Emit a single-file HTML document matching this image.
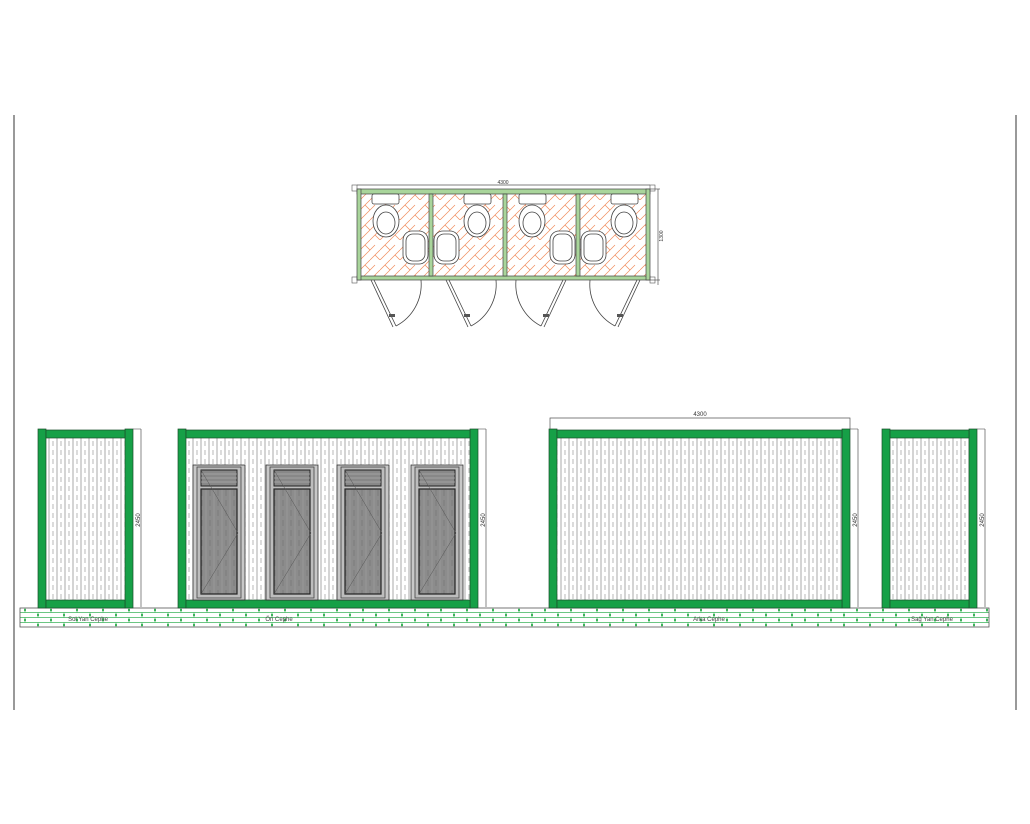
<!DOCTYPE html>
<html><head><meta charset="utf-8"><style>
html,body{margin:0;padding:0;background:#fff;}
svg{display:block;font-family:"Liberation Sans",sans-serif;}
</style></head><body>
<svg width="1030" height="824" viewBox="0 0 1030 824" xmlns="http://www.w3.org/2000/svg">
<defs>
<pattern id="sid" x="0" y="0" width="8" height="9" patternUnits="userSpaceOnUse">
<rect width="8" height="9" fill="#fff"/>
<line x1="1" y1="0" x2="1" y2="9" stroke="#aaa" stroke-width="1"/>
<line x1="5" y1="0" x2="5" y2="5" stroke="#999" stroke-width="0.7"/>
</pattern>
<pattern id="dsid" x="0" y="0" width="8" height="10" patternUnits="userSpaceOnUse">
<rect width="8" height="10" fill="#8c8c8c"/>
<line x1="2" y1="0" x2="2" y2="6" stroke="#777" stroke-width="0.8"/>
<line x1="6" y1="0" x2="6" y2="10" stroke="#9a9a9a" stroke-width="0.8"/>
</pattern>
<pattern id="herr" x="0" y="0" width="20" height="20" patternUnits="userSpaceOnUse">
<rect width="20" height="20" fill="#fff"/>
<path d="M0 10 L10 0 M10 20 L20 10 M5 5 L10 10 L15 5 M5 15 L0 20 M15 15 L20 20 M10 10 L5 15" stroke="#f08a5a" stroke-width="0.7" fill="none"/>
</pattern>
<pattern id="brick" x="20" y="608" width="26" height="19" patternUnits="userSpaceOnUse">
<rect width="26" height="19" fill="#fff"/>
<path d="M0 4.5 H26 M0 9.5 H26 M0 14.5 H26 M5 0 V4.5 M18 4.5 V9.5 M5 9.5 V14.5 M18 14.5 V19" stroke="#3cb35a" stroke-width="0.8" fill="none"/>
<rect x="4" y="1" width="2" height="2" fill="#3cb35a"/><rect x="17" y="6" width="2" height="2" fill="#3cb35a"/>
<rect x="4" y="11" width="2" height="2" fill="#3cb35a"/><rect x="17" y="16" width="2" height="2" fill="#3cb35a"/>
</pattern>
</defs>

<line x1="14" y1="115" x2="14" y2="710" stroke="#333" stroke-width="1"/>
<line x1="1016" y1="115" x2="1016" y2="710" stroke="#333" stroke-width="1"/>

<!-- ===== PLAN ===== -->
<line x1="357" y1="185" x2="650" y2="185" stroke="#555" stroke-width="0.7"/>
<text x="503" y="184" font-size="5" text-anchor="middle" fill="#333">4300</text>
<line x1="650" y1="189" x2="660" y2="189" stroke="#555" stroke-width="0.7"/>
<line x1="650" y1="280" x2="660" y2="280" stroke="#555" stroke-width="0.7"/>
<line x1="658" y1="189" x2="658" y2="285" stroke="#555" stroke-width="0.7"/>
<text x="663" y="236" font-size="5" fill="#333" transform="rotate(-90 663 236)" text-anchor="middle">1300</text>
<rect x="361" y="194" width="285" height="82" fill="url(#herr)"/>
<g fill="#a9d59b" stroke="#444" stroke-width="0.7">
<rect x="357" y="189" width="293" height="5"/>
<rect x="357" y="276" width="293" height="4"/>
<rect x="357" y="189" width="4" height="91"/>
<rect x="646" y="189" width="4" height="91"/>
<rect x="429" y="194" width="4" height="82"/>
<rect x="503" y="194" width="4" height="82"/>
<rect x="576" y="194" width="4" height="82"/>
</g>
<rect x="352" y="185" width="5" height="6" fill="none" stroke="#555" stroke-width="0.6"/>
<rect x="352" y="277" width="5" height="6" fill="none" stroke="#555" stroke-width="0.6"/>
<rect x="650" y="185" width="5" height="6" fill="none" stroke="#555" stroke-width="0.6"/>
<rect x="650" y="277" width="5" height="6" fill="none" stroke="#555" stroke-width="0.6"/>
<g fill="#fff" stroke="#444" stroke-width="0.8">
<rect x="372" y="194" width="27" height="10" rx="2"/><ellipse cx="386" cy="221" rx="13" ry="16"/><ellipse cx="386" cy="223" rx="9" ry="11"/>
<rect x="464" y="194" width="27" height="10" rx="2"/><ellipse cx="477" cy="221" rx="13" ry="16"/><ellipse cx="477" cy="223" rx="9" ry="11"/>
<rect x="519" y="194" width="27" height="10" rx="2"/><ellipse cx="532" cy="221" rx="13" ry="16"/><ellipse cx="532" cy="223" rx="9" ry="11"/>
<rect x="611" y="194" width="27" height="10" rx="2"/><ellipse cx="624" cy="221" rx="13" ry="16"/><ellipse cx="624" cy="223" rx="9" ry="11"/>
<rect x="403" y="231" width="25" height="33" rx="9"/><rect x="406" y="234" width="19" height="27" rx="7"/>
<rect x="434" y="231" width="25" height="33" rx="9"/><rect x="437" y="234" width="19" height="27" rx="7"/>
<rect x="550" y="231" width="25" height="33" rx="9"/><rect x="553" y="234" width="19" height="27" rx="7"/>
<rect x="581" y="231" width="25" height="33" rx="9"/><rect x="584" y="234" width="19" height="27" rx="7"/>
</g>
<g fill="none" stroke="#444" stroke-width="0.8">
<path d="M371 280 L393 327 M374 280 L396 326"/><path d="M396 326 A47 47 0 0 0 421 280"/>
<path d="M446 280 L468 327 M449 280 L471 326"/><path d="M471 326 A47 47 0 0 0 496 280"/>
<path d="M566 280 L544 327 M563 280 L541 326"/><path d="M541 326 A47 47 0 0 1 516 280"/>
<path d="M640 280 L618 327 M637 280 L615 326"/><path d="M615 326 A47 47 0 0 1 590 280"/>
</g>
<g fill="#555"><rect x="389" y="314" width="6" height="3"/><rect x="464" y="314" width="6" height="3"/><rect x="543" y="314" width="6" height="3"/><rect x="617" y="314" width="6" height="3"/></g>

<!-- ===== ELEVATIONS ===== -->
<rect x="20" y="608" width="969" height="19" fill="url(#brick)" stroke="#555" stroke-width="0.8"/>
<g font-size="6" fill="#444" text-anchor="middle">
<text x="88" y="621">Sol Yan Cephe</text><text x="279" y="621">Ön Cephe</text>
<text x="709" y="621">Arka Cephe</text><text x="932" y="621">Sağ Yan Cephe</text>
</g>

<rect x="46" y="438" width="79" height="162" fill="url(#sid)"/>
<g fill="#16a047" stroke="#1a4d2a" stroke-width="0.7">
<rect x="38" y="429" width="8" height="179"/><rect x="125" y="429" width="8" height="179"/>
<rect x="46" y="430" width="79" height="8"/><rect x="46" y="600" width="79" height="8"/>
</g>
<line x1="133" y1="429" x2="141" y2="429" stroke="#555" stroke-width="0.6"/>
<line x1="141" y1="429" x2="141" y2="607" stroke="#555" stroke-width="0.7"/>
<text x="140" y="520" font-size="6" fill="#333" transform="rotate(-90 140 520)" text-anchor="middle">2450</text>

<rect x="186" y="438" width="284" height="162" fill="url(#sid)"/>
<g fill="#16a047" stroke="#1a4d2a" stroke-width="0.7">
<rect x="178" y="429" width="8" height="179"/><rect x="470" y="429" width="8" height="179"/>
<rect x="186" y="430" width="284" height="8"/><rect x="186" y="600" width="284" height="8"/>
</g>
<line x1="478" y1="429" x2="486" y2="429" stroke="#555" stroke-width="0.6"/>
<line x1="486" y1="429" x2="486" y2="607" stroke="#555" stroke-width="0.7"/>
<text x="485" y="520" font-size="6" fill="#333" transform="rotate(-90 485 520)" text-anchor="middle">2450</text>
<g id="d1">
<rect x="193" y="465" width="52" height="135" fill="#c8c8c8" stroke="#333" stroke-width="0.8"/>
<rect x="197" y="467" width="44" height="131" fill="#bdbdbd" stroke="#444" stroke-width="0.8"/>
<rect x="201" y="470" width="36" height="16" fill="#888" stroke="#222" stroke-width="1"/>
<path d="M201 474 H237 M201 478 H237 M201 482 H237" stroke="#aaa" stroke-width="0.8"/>
<rect x="201" y="489" width="36" height="105" fill="url(#dsid)" stroke="#222" stroke-width="1.2"/>
<path d="M201 470 L238 533 L201 594" stroke="#555" stroke-width="0.5" fill="none"/>
</g>
<use href="#d1" x="73"/>
<use href="#d1" x="144"/>
<use href="#d1" x="218"/>

<rect x="557" y="438" width="285" height="162" fill="url(#sid)"/>
<g fill="#16a047" stroke="#1a4d2a" stroke-width="0.7">
<rect x="549" y="429" width="8" height="179"/><rect x="842" y="429" width="8" height="179"/>
<rect x="557" y="430" width="285" height="8"/><rect x="557" y="600" width="285" height="8"/>
</g>
<path d="M550 429 V418 H850 V429" fill="none" stroke="#555" stroke-width="0.7"/>
<text x="700" y="416" font-size="6" fill="#333" text-anchor="middle">4300</text>
<line x1="850" y1="429" x2="858" y2="429" stroke="#555" stroke-width="0.6"/>
<line x1="858" y1="429" x2="858" y2="607" stroke="#555" stroke-width="0.7"/>
<text x="857" y="520" font-size="6" fill="#333" transform="rotate(-90 857 520)" text-anchor="middle">2450</text>

<rect x="890" y="438" width="79" height="162" fill="url(#sid)"/>
<g fill="#16a047" stroke="#1a4d2a" stroke-width="0.7">
<rect x="882" y="429" width="8" height="179"/><rect x="969" y="429" width="8" height="179"/>
<rect x="890" y="430" width="79" height="8"/><rect x="890" y="600" width="79" height="8"/>
</g>
<line x1="977" y1="429" x2="985" y2="429" stroke="#555" stroke-width="0.6"/>
<line x1="985" y1="429" x2="985" y2="607" stroke="#555" stroke-width="0.7"/>
<text x="984" y="520" font-size="6" fill="#333" transform="rotate(-90 984 520)" text-anchor="middle">2450</text>
</svg>
</body></html>
